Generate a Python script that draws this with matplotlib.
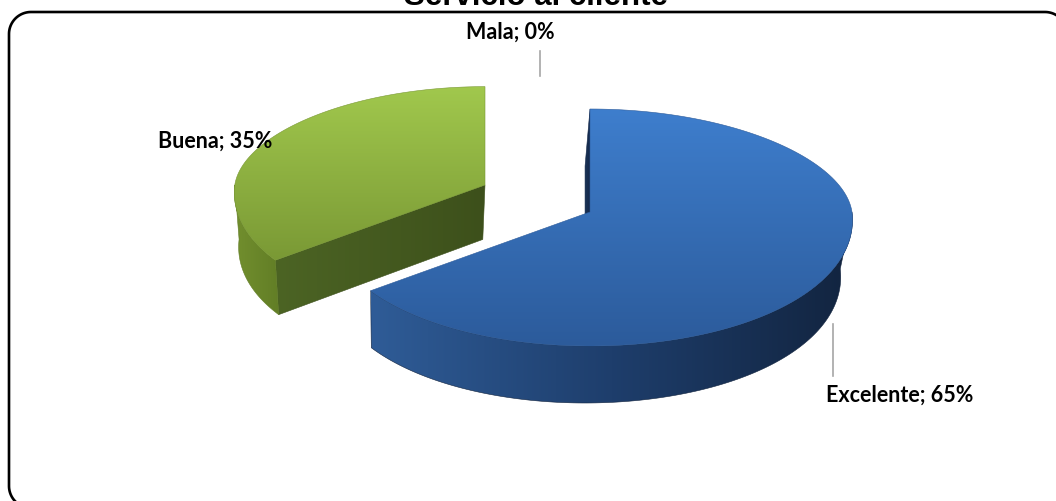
import numpy as np
import matplotlib
matplotlib.use("Agg")
import matplotlib.pyplot as plt
from matplotlib.patches import Polygon
from matplotlib.colors import to_rgb

# ---- data ----
title = "Servicio al cliente"
categories = ["Excelente", "Buena", "Mala"]
values = [65, 35, 0]

# ---- canvas in pixel units ----
W, H = 1056, 502
fig = plt.figure(figsize=(W / 100, H / 100), dpi=100)
ax = fig.add_axes([0, 0, 1, 1])

# base pie geometry (pixels): centre, radii back/front (perspective), thickness
BASE = dict(cx=590.0, cy=213.0, rx=262.0, ry_back=103.0, ry_front=134.0, depth=57.0)
XV, KP = 400.0, -0.026          # horizontal vanishing point / perspective factor
PW = 0.06                       # near side of the disc drawn slightly wider
EXPLODE = {"Buena": (-105.0, -27.0, 0.955)}   # dx, dy, scale

TOP_COLORS = {"Excelente": ["#3E7ECD", "#2C5B9B"], "Buena": ["#A1C84D", "#7A9935"],
              "Mala": ["#C0504D", "#9B3A38"]}
SIDE_COLORS = {"Excelente": ["#2F5C97", "#1E3E6C", "#12243F"],
               "Buena": ["#728F2E", "#627E26"], "Mala": ["#8B2E2C", "#6E2322"]}
FACE_COLORS = {"Excelente": ["#1A3358", "#15294A"], "Buena": ["#4C6424", "#3D501B"],
               "Mala": ["#6E2322", "#5A1C1B"]}


def geom(name):
    g = dict(BASE)
    if name in EXPLODE:
        dx, dy, s = EXPLODE[name]
        g["cx"] += dx
        g["cy"] += dy
        for k in ("rx", "ry_back", "ry_front", "depth"):
            g[k] *= s
    return g


def pt(g, t, bottom=False, r=1.0):
    tr = np.radians(t)
    s = np.sin(tr)
    ry = g["ry_back"] if s > 0 else g["ry_front"]
    x = g["cx"] + r * g["rx"] * np.cos(tr) * (1 - PW * s)
    y = g["cy"] - r * ry * s
    if bottom:
        x = XV + (1 + KP) * (x - XV)
        y += g["depth"]
    return (x, y)


def arc(g, a, b, bottom=False, n=160):
    return [pt(g, t, bottom) for t in np.linspace(a, b, n)]


def grad_fill(verts, colors, direction="v", zorder=2):
    verts = np.asarray(verts)
    x0, y0 = verts.min(axis=0)
    x1, y1 = verts.max(axis=0)
    n = 256
    stops = np.linspace(0, 1, len(colors))
    rgb = np.array([to_rgb(c) for c in colors])
    u = np.linspace(0, 1, n)
    ramp = np.stack([np.interp(u, stops, rgb[:, i]) for i in range(3)], axis=-1)
    img = ramp[:, None, :] if direction == "v" else ramp[None, :, :]
    poly = Polygon(verts, closed=True, facecolor="none", edgecolor="none")
    ax.add_patch(poly)
    im = ax.imshow(img, extent=(x0, x1, y1, y0), origin="upper",
                   interpolation="bilinear", zorder=zorder, aspect="auto")
    im.set_clip_path(poly)
    edge = Polygon(verts, closed=True, facecolor="none",
                   edgecolor=colors[-1], lw=0.4, zorder=zorder + 0.01)
    ax.add_patch(edge)


def face_visible(g, t, normal):
    sn = np.sin(np.radians(normal))
    if abs(sn) > 1e-6:
        return sn < 0
    cn = np.cos(np.radians(normal))
    return (g["cx"] - XV) * cn < 0


def draw_slice(name, t_lo, t_hi, zbase):
    g = geom(name)
    if t_hi - t_lo <= 0:
        return
    apex_t, apex_b = (g["cx"], g["cy"]), pt(g, 0, True, r=0.0)
    # radial cut faces
    for t, normal in ((t_lo, t_lo - 90), (t_hi, t_hi + 90)):
        if face_visible(g, t, normal):
            quad = [apex_t, pt(g, t), pt(g, t, True), apex_b]
            grad_fill(quad, FACE_COLORS[name], "h", zorder=zbase)
    # outer rim (front half only)
    for k in (-1, 0, 1):
        a = max(t_lo, 180 + 360 * k)
        b = min(t_hi, 360 + 360 * k)
        if b > a:
            rim = arc(g, a, b) + arc(g, b, a, bottom=True)
            grad_fill(rim, SIDE_COLORS[name], "h", zorder=zbase + 0.1)
    # top surface
    top = [apex_t] + arc(g, t_lo, t_hi)
    grad_fill(top, TOP_COLORS[name], "v", zorder=zbase + 0.2)


# slices start at 12 o'clock and run clockwise
total = float(sum(values))
angles = {}
cum = 0.0
for name, v in zip(categories, values):
    start = 90 - 360 * cum / total
    cum += v
    end = 90 - 360 * cum / total
    angles[name] = (end, start)

draw_slice("Buena", *angles["Buena"], zbase=2)
draw_slice("Excelente", *angles["Excelente"], zbase=4)
draw_slice("Mala", *angles["Mala"], zbase=6)

# ---- labels ----
label_font = dict(family="Lato", fontweight="bold", fontsize=15.5, color="black")
label_pos = {"Mala": (510, 32), "Buena": (215, 141), "Excelente": (900, 395)}
for name, v in zip(categories, values):
    x, y = label_pos[name]
    ax.text(x, y, f"{name}; {v}%", ha="center", va="center", zorder=10, **label_font)

# leader lines
ax.plot([540, 540], [52, 77], color="#A6A6A6", lw=1.2, zorder=9)
ax.plot([833, 833], [325, 377], color="#A6A6A6", lw=1.2, zorder=9)

# ---- title ----
ax.text(536, 5, title, ha="center", va="baseline", fontsize=22.5,
        fontweight="bold", family="Liberation Sans", zorder=10)

# ---- rounded chart-area frame (extends past the right and bottom edges) ----
fx0, fy0, fx1, fy1, fr = 9.0, 13.0, 1067.0, 509.0, 22.0
corner = np.linspace(0, np.pi / 2, 30)
fx, fy = [], []
for (ccx, ccy, a0) in ((fx1 - fr, fy0 + fr, 0.0), (fx0 + fr, fy0 + fr, np.pi / 2),
                       (fx0 + fr, fy1 - fr, np.pi), (fx1 - fr, fy1 - fr, 1.5 * np.pi)):
    ang = a0 + corner
    fx.extend(ccx + fr * np.cos(ang))
    fy.extend(ccy - fr * np.sin(ang))
fx.append(fx[0])
fy.append(fy[0])
ax.plot(fx, fy, color="black", lw=1.9, zorder=8, solid_joinstyle="round")

ax.set_xlim(0, W)
ax.set_ylim(H, 0)
ax.axis("off")
fig.savefig("out.png", dpi=100, facecolor="white")
